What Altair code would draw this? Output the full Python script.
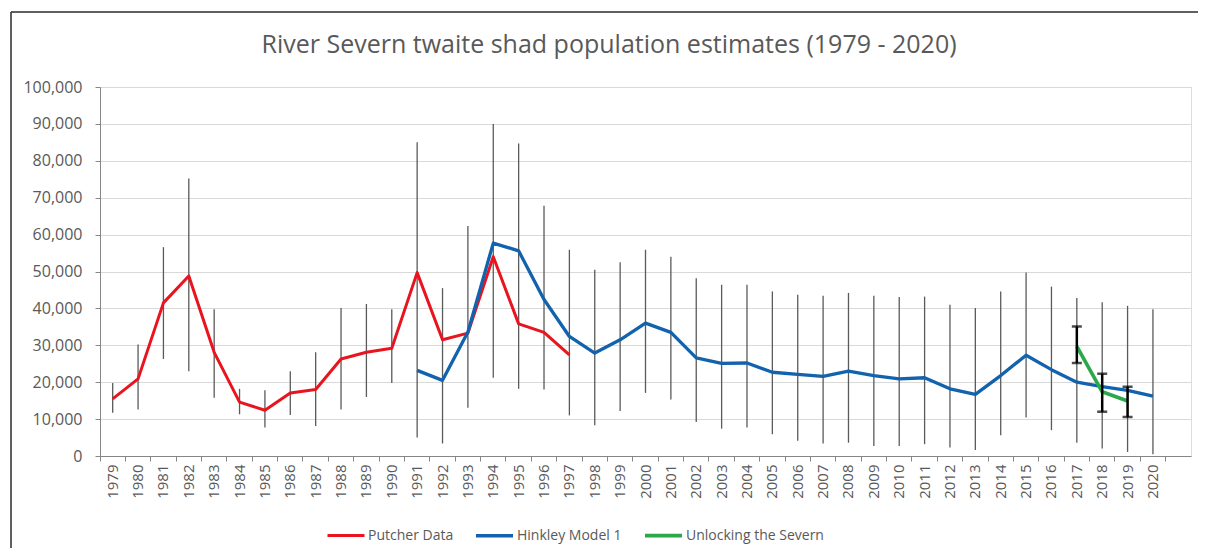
import altair as alt
import pandas as pd

FONT = "Open Sans"

chart_title = "River Severn twaite shad population estimates (1979 - 2020)"

all_years = ["1979", "1980", "1981", "1982", "1983", "1984", "1985", "1986", "1987", "1988",
             "1989", "1990", "1991", "1992", "1993", "1994", "1995", "1996", "1997", "1998",
             "1999", "2000", "2001", "2002", "2003", "2004", "2005", "2006", "2007", "2008",
             "2009", "2010", "2011", "2012", "2013", "2014", "2015", "2016", "2017", "2018",
             "2019", "2020", "2021"]

# Putcher Data (red)
putcher_years = ["1979", "1980", "1981", "1982", "1983", "1984", "1985", "1986", "1987", "1988",
                 "1989", "1990", "1991", "1992", "1993", "1994", "1995", "1996", "1997"]
putcher_vals = [15500, 20900, 41500, 48800, 28100, 14600, 12400, 17100, 18000, 26300,
                28100, 29200, 49700, 31500, 33300, 54000, 35800, 33500, 27400]
putcher_err_years = ["1979", "1980", "1981", "1982", "1983", "1984", "1985", "1986", "1987", "1988",
                     "1989", "1990", "1991", "1992"]
putcher_hi = [19800, 30200, 56600, 75200, 39800, 18200, 17800, 23000, 28100, 40100,
              41200, 39800, 85000, 45500]
putcher_lo = [11700, 12600, 26300, 23000, 15800, 11300, 7700, 11100, 8100, 12600,
              16000, 19800, 5000, 3400]

# Hinkley Model 1 (blue)
hinkley_years = ["1991", "1992", "1993", "1994", "1995", "1996", "1997", "1998", "1999", "2000",
                 "2001", "2002", "2003", "2004", "2005", "2006", "2007", "2008", "2009", "2010",
                 "2011", "2012", "2013", "2014", "2015", "2016", "2017", "2018", "2019", "2020"]
hinkley_vals = [23200, 20500, 33600, 57700, 55600, 42400, 32400, 27900, 31500, 36000,
                33500, 26600, 25100, 25200, 22700, 22100, 21600, 23000, 21800, 20900,
                21200, 18200, 16700, 21800, 27300, 23400, 20000, 18800, 17800, 16200]
hinkley_err_years = ["1993", "1994", "1995", "1996", "1997", "1998", "1999", "2000", "2001", "2002",
                     "2003", "2004", "2005", "2006", "2007", "2008", "2009", "2010", "2011", "2012",
                     "2013", "2014", "2015", "2016", "2017", "2018", "2019", "2020"]
hinkley_hi = [62300, 90000, 84700, 67800, 55900, 50500, 52500, 55900, 54000, 48200,
              46400, 46400, 44600, 43700, 43400, 44200, 43400, 43100, 43200, 41000,
              40100, 44600, 49700, 45900, 42800, 41700, 40700, 39800]
hinkley_lo = [13100, 21200, 18200, 18000, 11000, 8300, 12200, 17100, 15300, 9200,
              7400, 7700, 5900, 4100, 3400, 3600, 2700, 2700, 3200, 2300,
              1600, 5600, 10400, 7000, 3600, 2000, 1100, 500]

# Unlocking the Severn (green)
unlock_years = ["2017", "2018", "2019"]
unlock_vals = [29700, 17400, 14900]
unlock_hi = [35100, 22300, 18800]
unlock_lo = [25200, 12000, 10600]

y_ticks = [0, 10000, 20000, 30000, 40000, 50000, 60000, 70000, 80000, 90000, 100000]

series_names = ["Putcher Data", "Hinkley Model 1", "Unlocking the Severn"]
series_colors = ["#E8141E", "#1262AE", "#2AA84A"]
series_widths = [3, 3.6, 2.6]

lines_df = pd.concat([
    pd.DataFrame({"year": putcher_years, "value": putcher_vals, "series": series_names[0]}),
    pd.DataFrame({"year": hinkley_years, "value": hinkley_vals, "series": series_names[1]}),
    pd.DataFrame({"year": unlock_years, "value": unlock_vals, "series": series_names[2]}),
], ignore_index=True)

gray_err = pd.concat([
    pd.DataFrame({"year": putcher_err_years, "hi": putcher_hi, "lo": putcher_lo}),
    pd.DataFrame({"year": hinkley_err_years, "hi": hinkley_hi, "lo": hinkley_lo}),
], ignore_index=True)

black_err = pd.DataFrame({"year": unlock_years, "hi": unlock_hi, "lo": unlock_lo})

x_scale = alt.Scale(domain=all_years, paddingInner=0, paddingOuter=0)
x_axis = alt.Axis(title=None, labelAngle=-90, bandPosition=0, ticks=True, tickSize=5,
                  tickColor="#868686", domainColor="#868686", labelColor="#595959",
                  labelFont=FONT, labelFontSize=15, labelPadding=3, grid=False,
                  labelExpr="datum.value == '2021' ? '' : datum.value")
y_scale = alt.Scale(domain=[0, 100000], nice=False)
y_axis = alt.Axis(title=None, values=y_ticks, format=",.0f", labelOverlap=False,
                  grid=True, gridColor="#D9D9D9", tickSize=5, tickColor="#868686",
                  domainColor="#868686", labelColor="#595959", labelFont=FONT, labelFontSize=16,
                  labelPadding=13)


def X():
    return alt.X("year:N", scale=x_scale, axis=x_axis)


def Y(field):
    return alt.Y(field, scale=y_scale, axis=y_axis)


gray_rules = alt.Chart(gray_err).mark_rule(color="#5A5A5A", strokeWidth=1.3).encode(
    x=X(), y=Y("hi:Q"), y2="lo:Q",
)

lines = alt.Chart(lines_df).mark_line(strokeJoin="round").encode(
    x=X(),
    y=Y("value:Q"),
    color=alt.Color("series:N", scale=alt.Scale(domain=series_names, range=series_colors),
                    legend=alt.Legend(title=None, orient="none", direction="horizontal",
                                      legendX=226, legendY=428, symbolType="stroke",
                                      symbolSize=1369, symbolStrokeWidth=3, labelFont=FONT,
                                      labelFontSize=14, labelColor="#595959", labelOffset=2,
                                      columnPadding=15)),
    strokeWidth=alt.StrokeWidth("series:N",
                                scale=alt.Scale(domain=series_names, range=series_widths),
                                legend=None),
    detail="series:N",
)

black_rules = alt.Chart(black_err).mark_rule(color="#000000", strokeWidth=2.5).encode(
    x=X(), y=Y("hi:Q"), y2="lo:Q",
)
caps_hi = alt.Chart(black_err).mark_tick(color="#000000", thickness=2.5, size=10).encode(
    x=X(), y=Y("hi:Q"),
)
caps_lo = alt.Chart(black_err).mark_tick(color="#000000", thickness=2.5, size=10).encode(
    x=X(), y=Y("lo:Q"),
)

frame_src = alt.Data(values=[{"k": 1}])
frame_top = alt.Chart(frame_src).mark_rule(color="#2B2B2B", strokeWidth=1.5, clip=False).encode(
    x=alt.value(-89), x2=alt.value(1110), y=alt.value(-75))
frame_left = alt.Chart(frame_src).mark_rule(color="#2B2B2B", strokeWidth=1.5, clip=False).encode(
    x=alt.value(-89), y=alt.value(-75), y2=alt.value(470))

title_mark = alt.Chart(alt.Data(values=[{"t": chart_title}])).mark_text(
    font=FONT, fontSize=25, color="#595959", align="center", baseline="middle", clip=False
).encode(
    text="t:N", x=alt.value(509), y=alt.value(-42)
)

chart = alt.layer(
    gray_rules, lines, black_rules, caps_hi, caps_lo, frame_top, frame_left, title_mark
).properties(
    width=1091,
    height=369,
    autosize=alt.AutoSizeParams(type="none"),
    padding={"left": 92, "top": 79, "right": 7, "bottom": 92},
).configure_view(
    stroke="#A6A6A6", strokeWidth=1
).configure(background="white")

chart.save("out.html", embed_options={"renderer": "svg", "actions": False})
